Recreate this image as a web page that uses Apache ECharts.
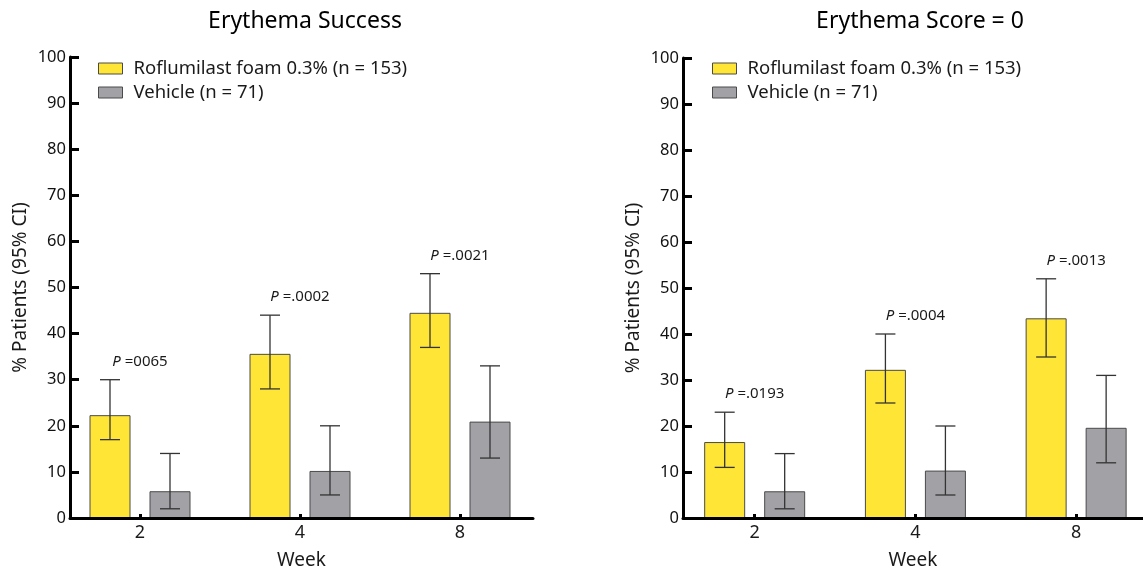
<!DOCTYPE html>
<html>
<head>
<meta charset="utf-8">
<script src="https://cdn.jsdelivr.net/npm/echarts@6/dist/echarts.min.js"></script>
<style>
html,body{margin:0;padding:0;background:#fff;}
#chart{width:1143px;height:575px;}
</style>
</head>
<body>
<div id="chart"></div>
<script>
// ---- data ----
const weeks = ['2', '4', '8'];
const seriesNames = ['Roflumilast foam 0.3% (n = 153)', 'Vehicle (n = 71)'];

// Erythema Success
const successRof = [22.2, 35.5, 44.4];
const successRofLow = [17, 28, 37];
const successRofHigh = [30, 44, 53];
const successVeh = [5.7, 10.1, 20.8];
const successVehLow = [2, 5, 13];
const successVehHigh = [14, 20, 33];
const successP = ['=0065', '=.0002', '=.0021'];

// Erythema Score = 0
const score0Rof = [16.4, 32.1, 43.3];
const score0RofLow = [11, 25, 35];
const score0RofHigh = [23, 40, 52];
const score0Veh = [5.7, 10.2, 19.5];
const score0VehLow = [2, 5, 12];
const score0VehHigh = [14, 20, 31];
const score0P = ['=.0193', '=.0004', '=.0013'];

const yTicks = [0, 10, 20, 30, 40, 50, 60, 70, 80, 90, 100];

// ---- styles ----
const FONT = 'Noto Sans';
const YELLOW = '#FFE535';
const GRAY = '#A2A1A6';
const BORDER = '#4a4a4a';
const ERR = '#333333';
const BAR_W = 40, OFFSET = 30, CAP = 10;

function toRows(vals, lo, hi) {
  return vals.map((v, i) => [i, v, lo[i], hi[i]]);
}
function barRender(offset, fill) {
  return function (params, api) {
    const x = api.value(0);
    const base = api.coord([x, 0]);
    const top = api.coord([x, api.value(1)]);
    const lo = api.coord([x, api.value(2)]);
    const hi = api.coord([x, api.value(3)]);
    const cx = base[0] + offset;
    return {
      type: 'group',
      children: [
        { type: 'rect', shape: { x: cx - BAR_W / 2, y: top[1], width: BAR_W, height: base[1] - top[1] },
          style: { fill: fill, stroke: BORDER, lineWidth: 1 } },
        { type: 'line', shape: { x1: cx, y1: hi[1], x2: cx, y2: lo[1] }, style: { stroke: ERR, lineWidth: 1.3 } },
        { type: 'line', shape: { x1: cx - CAP, y1: hi[1], x2: cx + CAP, y2: hi[1] }, style: { stroke: ERR, lineWidth: 1.3 } },
        { type: 'line', shape: { x1: cx - CAP, y1: lo[1], x2: cx + CAP, y2: lo[1] }, style: { stroke: ERR, lineWidth: 1.3 } }
      ]
    };
  };
}
function pRender(labels) {
  return function (params, api) {
    const x = api.value(0);
    const p = api.coord([x, api.value(1)]);
    return {
      type: 'text',
      style: {
        x: p[0], y: p[1] - 18,
        text: '{i|P} ' + labels[params.dataIndex],
        align: 'center', verticalAlign: 'middle',
        fontFamily: FONT, fontSize: 15, fill: '#1a1a1a',
        rich: { i: { fontStyle: 'italic', fontFamily: FONT, fontSize: 15, fill: '#1a1a1a' } }
      }
    };
  };
}

function makeXAxis(gridIndex, min, max) {
  return {
    type: 'value', gridIndex: gridIndex, min: min, max: max, z: 5,
    name: 'Week', nameLocation: 'middle', nameGap: 33,
    nameTextStyle: { fontFamily: FONT, fontSize: 19, color: '#1a1a1a' },
    axisLine: { show: true, onZero: false, lineStyle: { color: '#000', width: 3 } },
    axisTick: { show: true, inside: true, length: 4, customValues: [0, 1, 2], lineStyle: { color: '#000', width: 3 } },
    axisLabel: { customValues: [0, 1, 2], formatter: v => weeks[Math.round(v)], margin: 6,
      fontFamily: FONT, fontSize: 18, color: '#1a1a1a' },
    splitLine: { show: false }
  };
}
function makeYAxis(gridIndex) {
  return {
    type: 'value', gridIndex: gridIndex, min: 0, max: 100, interval: 10, z: 5,
    name: '% Patients (95% CI)', nameLocation: 'middle', nameGap: 40,
    nameTextStyle: { fontFamily: FONT, fontSize: 19, color: '#1a1a1a' },
    axisLine: { show: true, onZero: false, lineStyle: { color: '#000', width: 3 } },
    axisTick: { show: true, inside: true, length: 9, lineStyle: { color: '#000', width: 3 } },
    axisLabel: { margin: 4, fontFamily: FONT, fontSize: 16.5, color: '#111',
      formatter: v => String(yTicks[Math.round(v / 10)]) },
    splitLine: { show: false }
  };
}
function legendFor(left) {
  return {
    left: left, top: 54, orient: 'vertical', itemWidth: 24, itemHeight: 11, itemGap: 5,
    icon: 'rect',
    textStyle: { fontFamily: FONT, fontSize: 18.5, color: '#1a1a1a', lineHeight: 19, padding: [0, 0, 0, 6] },
    data: [
      { name: seriesNames[0], itemStyle: { color: YELLOW, borderColor: BORDER, borderWidth: 1 } },
      { name: seriesNames[1], itemStyle: { color: GRAY, borderColor: BORDER, borderWidth: 1 } }
    ]
  };
}

const chart = echarts.init(document.getElementById('chart'), null, { renderer: 'canvas' });
const option = {
  animation: false,
  backgroundColor: '#fff',
  title: [
    { text: 'Erythema Success', left: 300, top: 5, textAlign: 'center',
      textStyle: { fontFamily: FONT, fontSize: 23, fontWeight: 'normal', color: '#000' } },
    { text: 'Erythema Score = 0', left: 915, top: 5, textAlign: 'center',
      textStyle: { fontFamily: FONT, fontSize: 23, fontWeight: 'normal', color: '#000' } }
  ],
  legend: [legendFor(93), legendFor(707)],
  grid: [
    { left: 70, top: 57, width: 463, height: 461.5 },
    { left: 683, top: 58, width: 460, height: 463 }
  ],
  xAxis: [makeXAxis(0, -0.4375, 2.45625), makeXAxis(1, -0.446, 2.416)],
  yAxis: [makeYAxis(0), makeYAxis(1)],
  series: [
    { name: seriesNames[0], type: 'custom', xAxisIndex: 0, yAxisIndex: 0, itemStyle: { color: YELLOW },
      renderItem: barRender(-OFFSET, YELLOW), data: toRows(successRof, successRofLow, successRofHigh) },
    { name: seriesNames[1], type: 'custom', xAxisIndex: 0, yAxisIndex: 0, itemStyle: { color: GRAY },
      renderItem: barRender(OFFSET, GRAY), data: toRows(successVeh, successVehLow, successVehHigh) },
    { name: 'pSuccess', type: 'custom', xAxisIndex: 0, yAxisIndex: 0, silent: true,
      renderItem: pRender(successP), data: successRofHigh.map((h, i) => [i, h]) },
    { name: seriesNames[0], type: 'custom', xAxisIndex: 1, yAxisIndex: 1, itemStyle: { color: YELLOW },
      renderItem: barRender(-OFFSET, YELLOW), data: toRows(score0Rof, score0RofLow, score0RofHigh) },
    { name: seriesNames[1], type: 'custom', xAxisIndex: 1, yAxisIndex: 1, itemStyle: { color: GRAY },
      renderItem: barRender(OFFSET, GRAY), data: toRows(score0Veh, score0VehLow, score0VehHigh) },
    { name: 'pScore0', type: 'custom', xAxisIndex: 1, yAxisIndex: 1, silent: true,
      renderItem: pRender(score0P), data: score0RofHigh.map((h, i) => [i, h]) }
  ]
};
chart.setOption(option);
</script>
</body>
</html>
